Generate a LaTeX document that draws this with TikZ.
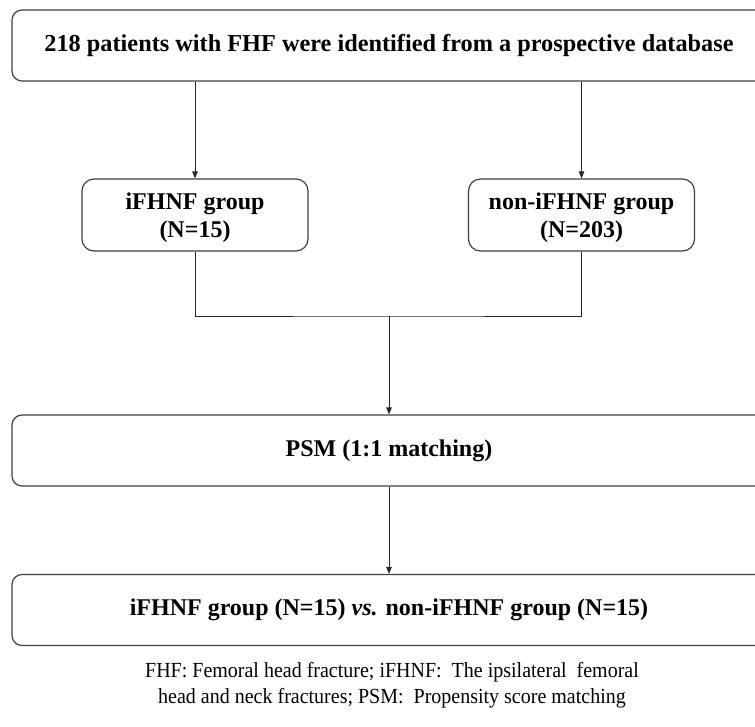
\documentclass[tikz,border=0pt]{standalone}
\usepackage{fontspec}
\setmainfont{Liberation Serif}
\newfontfamily\notefont[FakeStretch=0.93]{Liberation Serif}
\usetikzlibrary{arrows.meta}
\tikzset{
  box/.style={draw=black!75, line width=1.2pt, rounded corners=10pt, fill=white,
              inner sep=0pt, align=center, font=\fontsize{24}{28}\selectfont\bfseries},
  widebox/.style={box, minimum width=754pt, minimum height=71pt},
  groupbox/.style={box, minimum width=226pt, minimum height=72pt, rounded corners=12pt},
  conn/.style={draw=black!85, line width=1pt},
  arr/.style={conn, -{Triangle[length=7pt,width=5.5pt]}},
  note/.style={align=center, inner sep=0pt, font=\notefont\fontsize{21.5}{26}\selectfont}
}
\begin{document}
\begin{tikzpicture}[x=1pt,y=-1pt]
\useasboundingbox (0,0) rectangle (755,726);
\clip (0,0) rectangle (755,726);
\node[widebox, font=\fontsize{24.3}{28}\selectfont\bfseries] (top) at (389,45.5) {218 patients with FHF were identified from a prospective database};
\node[groupbox] (L) at (195,215) {\rule{0pt}{22pt}iFHNF group\\(N=15)};
\node[groupbox] (R) at (581.5,215) {\rule{0pt}{22pt}non-iFHNF group\\(N=203)};
\node[widebox] (psm) at (389,450.5) {PSM (1:1 matching)};
\node[widebox] (bot) at (389,610) {iFHNF group (N=15) \textit{vs.} non-iFHNF group (N=15)};
\coordinate (j) at (389,316);
\node[note, anchor=north] (fn) at (392,662) {FHF: Femoral head fracture; iFHNF:\ \ The ipsilateral\ \ femoral\\head and neck fractures; PSM:\ \ Propensity score matching};
\draw[arr] (top.south -| L.north) -- (L.north);
\draw[arr] (top.south -| R.north) -- (R.north);
\draw[conn] (L.south) |- (j) -| (R.south);
\draw[arr] (j) -- (psm.north);
\draw[arr] (psm.south) -- (bot.north);
\end{tikzpicture}
\end{document}
